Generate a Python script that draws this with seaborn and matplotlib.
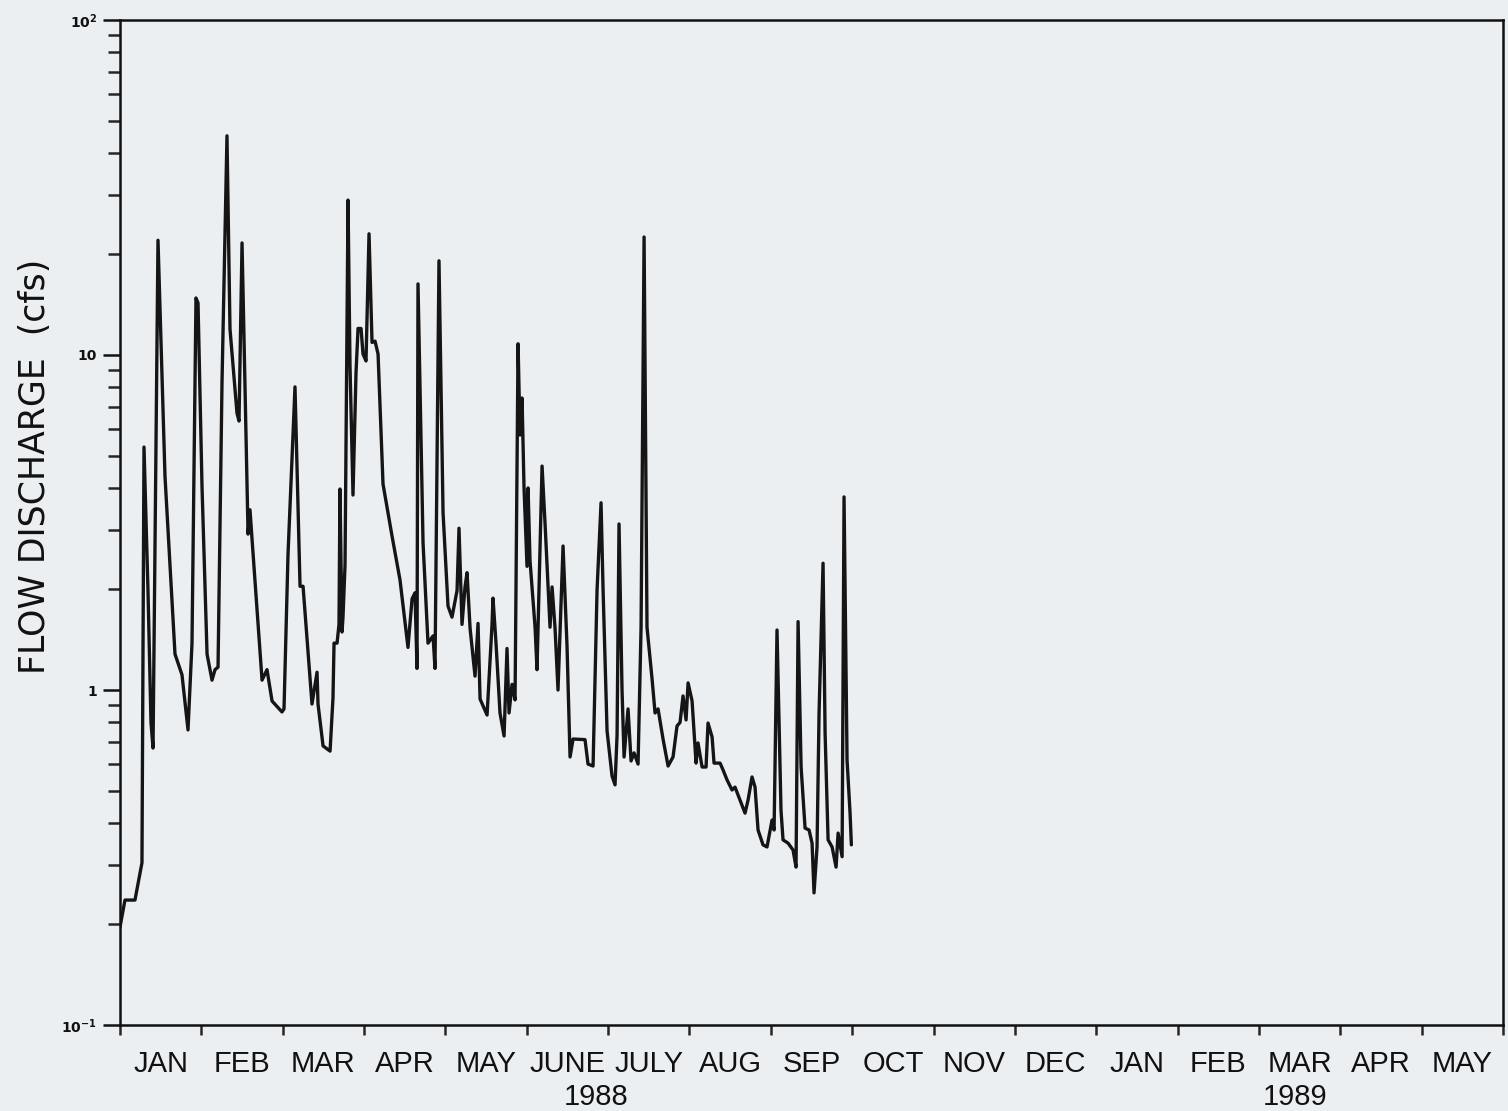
import numpy as np
import pandas as pd
import matplotlib
matplotlib.use("Agg")
import matplotlib.pyplot as plt
import seaborn as sns
from matplotlib.ticker import FixedLocator, FixedFormatter, NullFormatter, LogLocator

# ---- data ----
# time axis: months since 1 Jan 1988 (each calendar month drawn with equal width)
t_month = [
    0.000, 0.061, 0.184, 0.270, 0.295, 0.344, 0.381, 0.406, 0.467, 0.553,
    0.615, 0.676, 0.762, 0.836, 0.885, 0.934, 0.959, 1.008, 1.070, 1.131,
    1.168, 1.205, 1.254, 1.315, 1.352, 1.438, 1.463, 1.500, 1.574, 1.598,
    1.623, 1.746, 1.807, 1.869, 1.991, 2.016, 2.065, 2.151, 2.213, 2.250,
    2.360, 2.422, 2.434, 2.496, 2.582, 2.618, 2.631, 2.668, 2.692, 2.704,
    2.729, 2.741, 2.766, 2.803, 2.827, 2.864, 2.901, 2.926, 2.963, 2.987,
    3.024, 3.061, 3.098, 3.135, 3.172, 3.233, 3.344, 3.442, 3.540, 3.590,
    3.626, 3.651, 3.663, 3.725, 3.786, 3.848, 3.872, 3.921, 3.971, 4.032,
    4.081, 4.143, 4.167, 4.204, 4.241, 4.266, 4.303, 4.364, 4.401, 4.426,
    4.512, 4.573, 4.585, 4.622, 4.671, 4.721, 4.757, 4.782, 4.819, 4.856,
    4.893, 4.917, 4.942, 4.966, 5.003, 5.016, 5.040, 5.102, 5.126, 5.188,
    5.225, 5.286, 5.311, 5.347, 5.384, 5.446, 5.495, 5.532, 5.569, 5.716,
    5.753, 5.815, 5.864, 5.913, 5.938, 5.987, 6.048, 6.085, 6.110, 6.134,
    6.171, 6.196, 6.245, 6.282, 6.319, 6.368, 6.405, 6.442, 6.478, 6.540,
    6.577, 6.614, 6.675, 6.737, 6.798, 6.847, 6.884, 6.921, 6.958, 6.983,
    7.032, 7.081, 7.105, 7.155, 7.204, 7.228, 7.278, 7.302, 7.376, 7.413,
    7.462, 7.523, 7.560, 7.622, 7.683, 7.720, 7.769, 7.806, 7.843, 7.904,
    7.953, 8.015, 8.040, 8.076, 8.125, 8.150, 8.212, 8.273, 8.310, 8.335,
    8.372, 8.421, 8.470, 8.507, 8.531, 8.568, 8.593, 8.642, 8.667, 8.704,
    8.753, 8.802, 8.827, 8.876, 8.900, 8.937, 8.974, 8.990,
]

flow_cfs = [
    0.196, 0.236, 0.236, 0.305, 5.31, 1.98, 0.80, 0.671, 22.0, 4.35,
    2.36, 1.28, 1.11, 0.760, 1.38, 14.8, 14.3, 4.06, 1.28, 1.07,
    1.15, 1.17, 8.31, 45.1, 11.96, 6.71, 6.35, 21.6, 2.92, 3.45,
    2.82, 1.07, 1.15, 0.927, 0.860, 0.878, 2.53, 8.03, 2.04, 2.04,
    0.908, 1.13, 0.908, 0.681, 0.657, 0.946, 1.38, 1.38, 1.57, 3.98,
    1.49, 1.65, 2.36, 29.0, 9.33, 3.82, 8.84, 12.0, 12.0, 10.07,
    9.60, 23.0, 10.9, 11.0, 10.07, 4.12, 2.88, 2.13, 1.34, 1.87,
    1.95, 1.16, 16.3, 2.75, 1.38, 1.45, 1.16, 19.1, 3.38, 1.78,
    1.65, 1.98, 3.04, 1.57, 2.03, 2.24, 1.53, 1.10, 1.58, 0.940,
    0.842, 1.57, 1.88, 1.38, 0.854, 0.729, 1.33, 0.854, 1.04, 0.934,
    10.8, 5.77, 7.44, 4.04, 2.34, 4.01, 2.43, 1.54, 1.15, 4.66,
    3.13, 1.54, 2.03, 1.54, 1.00, 2.69, 1.35, 0.631, 0.714, 0.711,
    0.601, 0.593, 1.99, 3.62, 1.99, 0.755, 0.554, 0.521, 0.734, 3.13,
    1.00, 0.631, 0.878, 0.614, 0.649, 0.601, 1.54, 22.5, 1.54, 1.08,
    0.854, 0.878, 0.714, 0.593, 0.631, 0.781, 0.80, 0.960, 0.814, 1.05,
    0.927, 0.605, 0.695, 0.589, 0.589, 0.797, 0.724, 0.605, 0.605, 0.577,
    0.539, 0.503, 0.513, 0.469, 0.429, 0.469, 0.550, 0.513, 0.382, 0.345,
    0.340, 0.409, 0.382, 1.51, 0.438, 0.357, 0.349, 0.333, 0.296, 1.60,
    0.589, 0.387, 0.382, 0.349, 0.248, 0.340, 0.854, 2.39, 0.744, 0.357,
    0.340, 0.296, 0.374, 0.318, 3.77, 0.618, 0.429, 0.345,
]

month_labels = ["JAN", "FEB", "MAR", "APR", "MAY", "JUNE", "JULY", "AUG",
                "SEP", "OCT", "NOV", "DEC", "JAN", "FEB", "MAR", "APR", "MAY"]
year_labels = ["1988", "1989"]
y_major = [0.1, 1, 10, 100]
y_major_labels = [r"$\mathbf{10^{-1}}$", "1", "10", r"$\mathbf{10^{2}}$"]

df = pd.DataFrame({"t": t_month, "q": flow_cfs})

# ---- styling ----
sns.set_style("ticks")
plt.rcParams["font.family"] = ["Liberation Sans", "DejaVu Sans"]
paper = "#eceff2"

fig = plt.figure(figsize=(15.08, 11.11), dpi=100, facecolor=paper)
ax = fig.add_axes([120 / 1508, 86 / 1111, 1383 / 1508, 1005 / 1111])
ax.set_facecolor(paper)

sns.lineplot(data=df, x="t", y="q", ax=ax, color="#151515", linewidth=2.4,
             estimator=None, sort=False)

ax.set_yscale("log")
ax.set_ylim(0.1, 100)
ax.set_xlim(0, len(month_labels))

# y axis ticks
ax.yaxis.set_major_locator(FixedLocator(y_major))
ax.yaxis.set_major_formatter(FixedFormatter(y_major_labels))
ax.yaxis.set_minor_locator(LogLocator(base=10, subs=np.arange(2, 10)))
ax.yaxis.set_minor_formatter(NullFormatter())
ax.tick_params(axis="y", which="major", length=12.5, width=1.8, direction="out",
               pad=4, labelsize=10, colors="#111111")
ax.tick_params(axis="y", which="minor", length=8.5, width=1.8, direction="out")
for lab in ax.get_yticklabels():
    lab.set_fontweight("bold")
    lab.set_family("DejaVu Sans")

# x axis: month boundaries as ticks, names centred in each month
ax.xaxis.set_major_locator(FixedLocator(np.arange(len(month_labels) + 1)))
ax.xaxis.set_major_formatter(NullFormatter())
ax.xaxis.set_minor_locator(FixedLocator(np.arange(len(month_labels)) + 0.5))
ax.xaxis.set_minor_formatter(FixedFormatter(month_labels))
ax.tick_params(axis="x", which="major", length=7.5, width=1.8, direction="out")
ax.tick_params(axis="x", which="minor", length=0, pad=18, labelsize=21,
               colors="#111111")

ax.set_xlabel("")
ax.set_ylabel("")
ax.grid(False)
for s in ax.spines.values():
    s.set_visible(True)
    s.set_linewidth(1.8)
    s.set_color("#111111")

# year labels under the month names
trans = ax.get_xaxis_transform()
ax.text(5.85, -0.0715, year_labels[0], transform=trans, ha="center", va="center",
        fontsize=21, color="#111111")
ax.text(14.45, -0.0715, year_labels[1], transform=trans, ha="center", va="center",
        fontsize=21, color="#111111")

fig.text(35 / 1508, 1 - 466 / 1111, "FLOW DISCHARGE  (cfs)", rotation=90,
         ha="center", va="center", fontsize=25, family="DejaVu Sans",
         color="#111111")

fig.savefig("out.png", dpi=100, facecolor=paper)
